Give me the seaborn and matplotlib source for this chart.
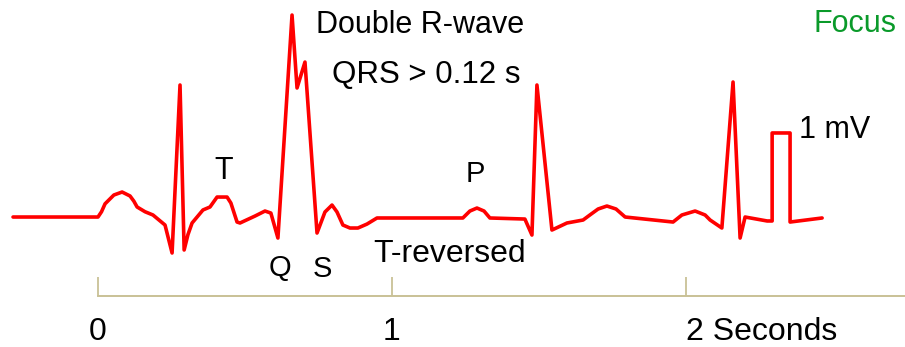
import numpy as np
import matplotlib
matplotlib.use("Agg")
import matplotlib.pyplot as plt
import seaborn as sns

# ==================================================================================================

# ECG trace: time in seconds, amplitude in mV
time_s = [-0.289, 0.000, 0.012, 0.024, 0.054, 0.082, 0.109, 0.122, 0.133, 0.160, 0.187, 0.228, 0.252,
          0.279, 0.293, 0.306, 0.320, 0.357, 0.381, 0.405, 0.439, 0.452, 0.473, 0.483,
          0.534, 0.568, 0.588, 0.612, 0.660, 0.677, 0.704, 0.745, 0.772, 0.796,
          0.813, 0.833, 0.857, 0.884, 0.915, 0.949, 1.241, 1.265, 1.289, 1.313,
          1.333, 1.452, 1.476, 1.493, 1.544, 1.595, 1.650, 1.673, 1.701, 1.731,
          1.762, 1.793, 1.956, 1.986, 2.031, 2.065, 2.082, 2.122, 2.160, 2.184,
          2.201, 2.276, 2.293, 2.293, 2.354, 2.354, 2.463]
volt_mv = [0.000, 0.000, 0.060, 0.150, 0.250, 0.284, 0.239, 0.180, 0.114, 0.060, 0.023, -0.091, -0.409,
           1.500, -0.375, -0.200, -0.068, 0.080, 0.114, 0.227, 0.227, 0.159, -0.057, -0.068,
           0.011, 0.068, 0.045, -0.239, 2.295, 1.466, 1.761, -0.182, 0.057, 0.136,
           0.057, -0.091, -0.125, -0.125, -0.080, -0.011, -0.011, 0.068, 0.102, 0.068,
           -0.011, -0.023, -0.205, 1.500, -0.148, -0.068, -0.034, 0.023, 0.091, 0.125,
           0.091, 0.000, -0.057, 0.023, 0.068, 0.023, -0.034, -0.125, 1.534, -0.239,
           0.000, -0.045, -0.045, 0.955, 0.955, -0.057, -0.011]

tick_pos = [0, 1, 2]
tick_labels = ["0", "1", "2 Seconds"]

# annotations: text, time (s), amplitude (mV) at baseline
labels = ["T", "Double R-wave", "QRS > 0.12 s", "P", "Q", "S", "T-reversed", "1 mV"]
label_t = [0.429, 1.095, 1.116, 1.282, 0.619, 0.762, 1.197, 2.507]
label_v = [0.432, 2.091, 1.523, 0.398, -0.670, -0.682, -0.511, 0.898]
label_size = [22, 22, 22.5, 21, 21, 21, 23, 22]

# ==================================================================================================

sns.set_theme(style="white")
plt.rcParams["font.family"] = ["Liberation Sans", "DejaVu Sans"]

axis_color = "#c9c196"

fig = plt.figure(figsize=(9.05, 3.47), dpi=100)
ax = fig.add_axes([0, 0, 1, 1])

sns.lineplot(x=time_s, y=volt_mv, sort=False, estimator=None, color="#ff0000",
             linewidth=2.6, solid_joinstyle="round", ax=ax)

ax.set_xlim(-0.3333, 2.7449)
ax.set_ylim(-1.477, 2.466)

for s in ["left", "top", "right"]:
    ax.spines[s].set_visible(False)
ax.spines["bottom"].set_position(("data", -0.898))
ax.spines["bottom"].set_bounds(0, 2.745)
ax.spines["bottom"].set_color(axis_color)
ax.spines["bottom"].set_linewidth(1.4)

ax.set_yticks([])
ax.set_xticks(tick_pos, tick_labels)
ax.tick_params(axis="x", direction="in", length=14, width=1.3, color=axis_color,
               pad=15, labelsize=23, labelcolor="black", bottom=True)
for lab in ax.get_xticklabels():
    if "Seconds" in lab.get_text():
        lab.set_ha("left")

for txt, t, v, fs in zip(labels, label_t, label_v, label_size):
    ax.text(t, v, txt, ha="center", va="baseline", fontsize=fs, color="black")

ax.text(2.575, 2.102, "Focus", ha="center", va="baseline", fontsize=22, color="#0a9a2a")

ax.set_xlabel("")
ax.set_ylabel("")

fig.savefig("out.png", dpi=100)
